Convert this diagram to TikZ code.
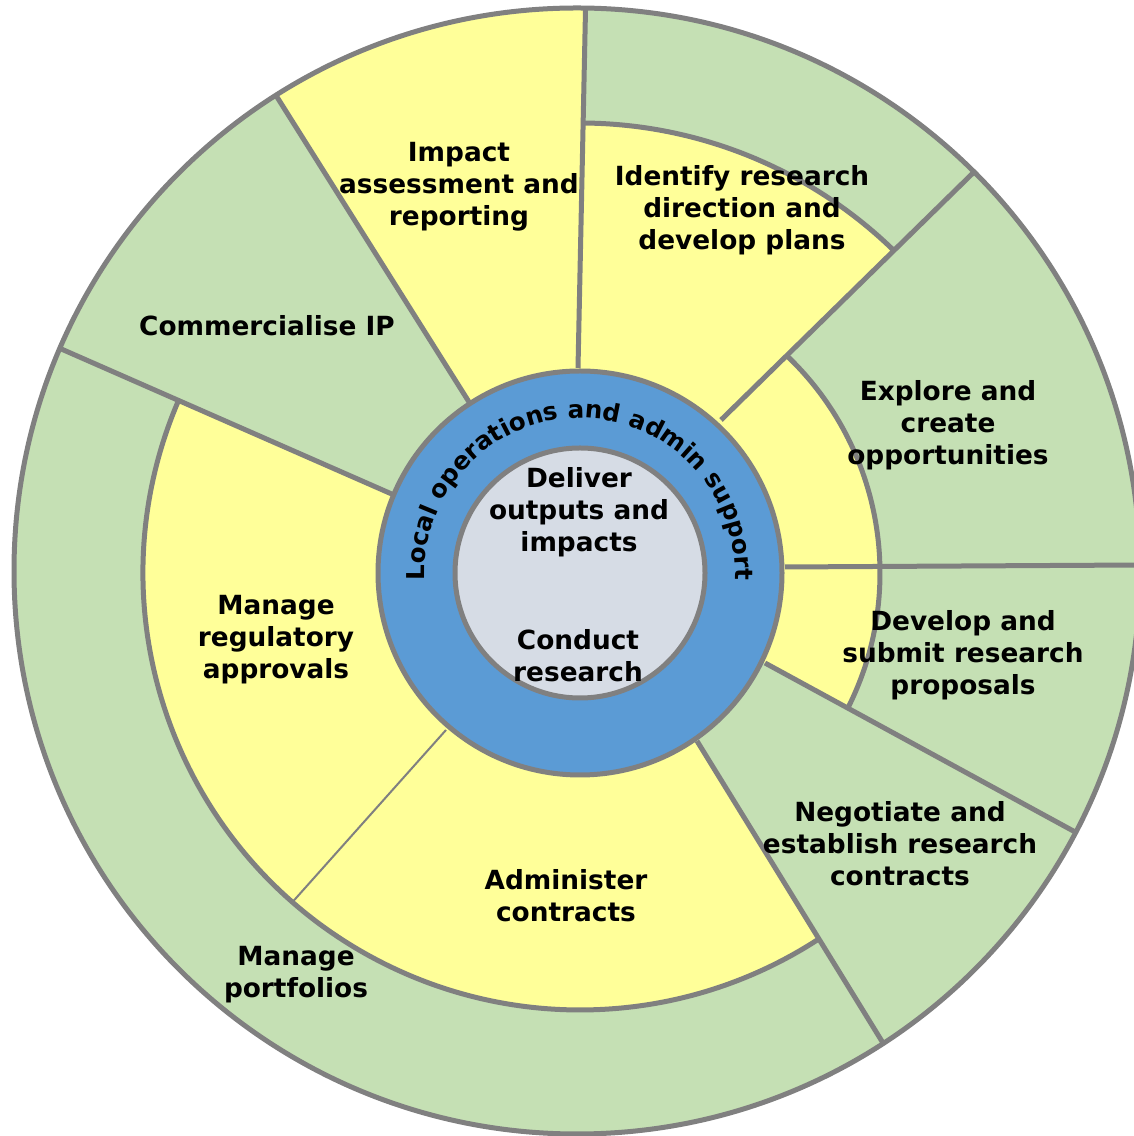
\documentclass[tikz,border=0pt]{standalone}
\usepackage{fontspec}
\setmainfont{DejaVu Sans}
\usetikzlibrary{calc,decorations.text}
\definecolor{grn}{HTML}{C5E0B4}
\definecolor{yel}{HTML}{FFFF99}
\definecolor{blu}{HTML}{5B9BD5}
\definecolor{pale}{HTML}{D6DCE5}
\definecolor{lgr}{HTML}{808080}
\newcommand\lblfont{\bfseries\fontsize{15}{18.2}\selectfont}
\newcommand\ringfont{\bfseries\fontsize{14}{16}\selectfont}
\begin{document}
\begin{tikzpicture}[x=0.02cm,y=0.02cm,
  ln/.style={draw=lgr,line width=0.1cm},
  thinln/.style={draw=lgr,line width=0.04cm},
  lbl/.style={align=center,font=\lblfont,inner sep=0pt}]
\useasboundingbox (0,0) rectangle (1133,1136);
% centres
\coordinate (C) at (580,563);
\coordinate (O) at (577,565);
% spokes (inner / outer ends)
\coordinate (S90in) at (578,768);   \coordinate (S90out) at (585.5,1126);
\coordinate (S46in) at (721,716);   \coordinate (S46out) at (973,963);
\coordinate (S0in) at (785,569);    \coordinate (S0out) at (1140,571);
\coordinate (S27in) at (765,473);   \coordinate (S27out) at (1077,303);
\coordinate (S56in) at (697,395);   \coordinate (S56out) at (883,93);
\coordinate (S229in) at (446,406);  \coordinate (S229out) at (297,239);
\coordinate (S157in) at (394,641);  \coordinate (S157out) at (59,788);
\coordinate (S123in) at (469,734);  \coordinate (S123out) at (277,1039);
% far points
\coordinate (F90) at ($(S90in)!1.5!(S90out)$);
\coordinate (F46) at ($(S46in)!1.5!(S46out)$);
\coordinate (F0) at ($(S0in)!1.5!(S0out)$);
\coordinate (F27) at ($(S27in)!1.5!(S27out)$);
\coordinate (F56) at ($(S56in)!1.5!(S56out)$);
\coordinate (F157) at ($(S157in)!1.5!(S157out)$);
\coordinate (F123) at ($(S123in)!1.5!(S123out)$);
\coordinate (T229) at ($(S229in)!1.03!(S229out)$);

% green base disk
\fill[grn] (O) circle (563);
% yellow: impact assessment
\begin{scope}
  \clip (O) circle (563);
  \fill[yel] (C) -- (S90in) -- (F90) -- (F123) -- (S123in) -- cycle;
\end{scope}
% yellow: identify research direction
\begin{scope}
  \clip (C) circle (450);
  \fill[yel] (C) -- (S46in) -- (F46) -- (F90) -- (S90in) -- cycle;
\end{scope}
% yellow: explore / develop
\begin{scope}
  \clip (C) circle (300);
  \fill[yel] (C) -- (S27in) -- (F27) -- (F0) -- (F46) -- (S46in) -- cycle;
\end{scope}
% yellow: regulatory / administer
\begin{scope}
  \clip (C) circle (437);
  \fill[yel] (C) -- (S157in) -- (F157) -- ($(C)+(195:800)$) -- ($(C)+(235:800)$)
     -- ($(C)+(270:800)$) -- (F56) -- (S56in) -- cycle;
\end{scope}

% inner arcs
\draw[ln] ($(C)+(45.8:450)$) arc[start angle=45.8, end angle=89.6, radius=450];
\draw[ln] ($(C)+(-26.7:300)$) arc[start angle=-26.7, end angle=46.3, radius=300];
\draw[ln] ($(C)+(156.6:437)$) arc[start angle=156.6, end angle=303.2, radius=437];

% spokes
\begin{scope}
  \clip (O) circle (563);
  \draw[ln] (S90in) -- (F90);
  \draw[ln] (S46in) -- (F46);
  \draw[ln] (S0in) -- (F0);
  \draw[ln] (S27in) -- (F27);
  \draw[ln] (S56in) -- (F56);
  \draw[ln] (S157in) -- (F157);
  \draw[ln] (S123in) -- (F123);
  \draw[thinln] (S229in) -- (T229);
\end{scope}
\draw[ln] (O) circle (563);

% central rings
\filldraw[fill=blu,ln] (C) circle (202);
\filldraw[fill=pale,ln] (C) circle (125);

% ring text
\path[decorate,decoration={text along path,text align=center,
   text={|\ringfont|Local operations and admin support}}]
   ($(C)+(210:155)$) arc[start angle=210, end angle=-30, radius=155];

% labels
\node[lbl] (impact) at (459,949.5) {Impact\\assessment and\\reporting};
\node[lbl] (identify) at (742,925.5) {Identify research\\direction and\\develop plans};
\node[lbl] (commerc) at (267,810) {Commercialise IP};
\node[lbl] (explore) at (948,710.5) {Explore and\\create\\opportunities};
\node[lbl] (develop) at (963,480.5) {Develop and\\submit research\\proposals};
\node[lbl] (regul) at (276,496.5) {Manage\\regulatory\\approvals};
\node[lbl] (negot) at (900,292) {Negotiate and\\establish research\\contracts};
\node[lbl] (admin) at (566,240) {Administer\\contracts};
\node[lbl] (portf) at (296,161.5) {Manage\\portfolios};
\node[lbl] (deliver) at (579,624) {Deliver\\outputs and\\impacts};
\node[lbl] (conduct) at (578,480.5) {Conduct\\research};
\end{tikzpicture}
\end{document}
